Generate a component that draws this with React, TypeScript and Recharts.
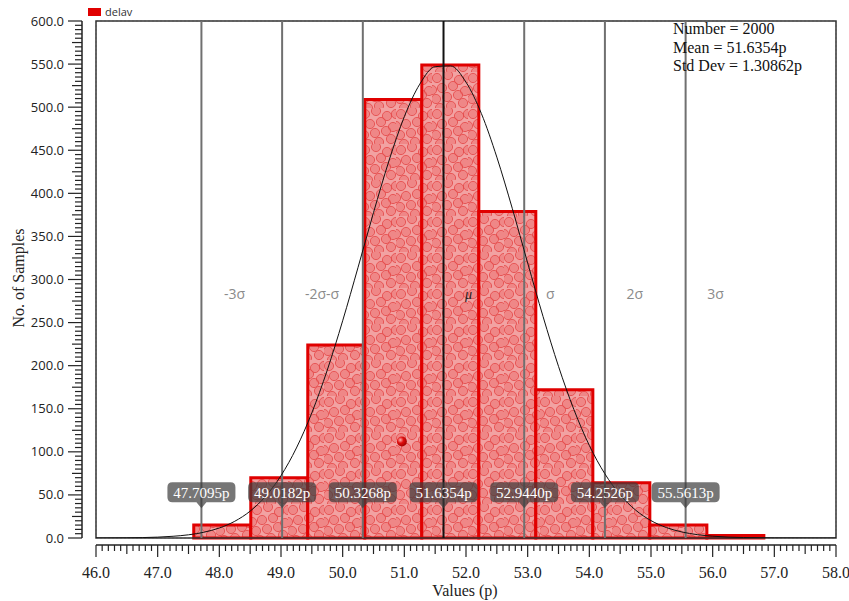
import React from 'react';
import {
  ComposedChart,
  Line,
  XAxis,
  YAxis,
  CartesianGrid,
  ReferenceArea,
  ReferenceLine,
  ReferenceDot,
  Label,
} from 'recharts';

// ---------- data ----------
const seriesName = 'delav';
const binEdges = [47.585, 48.51, 49.434, 50.359, 51.283, 52.208, 53.132, 54.057, 54.981, 55.906, 56.83];
const binCounts = [15, 70, 224, 509, 549, 379, 172, 64, 15, 3];

const curveX = [
  46.0, 46.5, 47.0, 47.25, 47.5, 47.75, 48.0, 48.25, 48.5, 48.75, 49.0, 49.25, 49.5, 49.75,
  50.0, 50.25, 50.5, 50.75, 51.0, 51.25, 51.5, 51.75, 52.0, 52.25, 52.5, 52.75, 53.0, 53.25,
  53.5, 53.75, 54.0, 54.25, 54.5, 54.75, 55.0, 55.25, 55.5, 55.75, 56.0, 56.5, 57.0, 58.0,
];
const curveY = [
  0.05, 0.25, 1.0, 2.0, 3.7, 6.7, 11.6, 19.4, 31.2, 48.4, 72.4, 104.5, 145.3, 194.8,
  252.1, 314.2, 377.6, 437.6, 489.0, 526.7, 547.0, 547.9, 529.0, 492.5, 442.0, 382.6, 319.2, 256.9,
  199.2, 149.0, 107.4, 74.7, 50.1, 32.4, 20.2, 12.1, 7.0, 3.9, 2.1, 0.55, 0.12, 0.0,
];

const sigmaValues = [47.7095, 49.0182, 50.3268, 51.6354, 52.944, 54.2526, 55.5613];
const sigmaValueLabels = ['47.7095p', '49.0182p', '50.3268p', '51.6354p', '52.9440p', '54.2526p', '55.5613p'];
const sigmaNames = ['-3σ', '-2σ-σ', '', 'μ', 'σ', '2σ', '3σ'];
const meanIndex = 3;

const statsLines = ['Number = 2000', 'Mean = 51.6354p', 'Std Dev = 1.30862p'];
const outlierPoint = { x: 50.96, y: 112 };

const xTickLabels = ['46.0', '47.0', '48.0', '49.0', '50.0', '51.0', '52.0', '53.0', '54.0', '55.0', '56.0', '57.0', '58.0'];
const yTickLabels = ['0.0', '50.0', '100.0', '150.0', '200.0', '250.0', '300.0', '350.0', '400.0', '450.0', '500.0', '550.0', '600.0'];

// ---------- derived (layout helpers) ----------
const curveData = curveX.map((x, i) => ({ x, y: curveY[i] }));
const xMinorTicks: number[] = [];
for (let i = 0; i <= 120; i++) xMinorTicks.push(Math.round((46 + i * 0.1) * 10) / 10);
const yMinorTicks: number[] = [];
for (let i = 0; i <= 120; i++) yMinorTicks.push(i * 5);
const xGridTicks: number[] = [];
for (let i = 0; i <= 24; i++) xGridTicks.push(46 + i * 0.5);
const yGridTicks: number[] = [];
for (let i = 0; i <= 12; i++) yGridTicks.push(i * 50);

const labelOffsets = [33, 40, 0, 25, 26, 30, 30];

const XTick = (props: any) => {
  const { x, y, payload } = props;
  const v = payload.value as number;
  const major = Math.abs(v - Math.round(v)) < 1e-6;
  const half = Math.abs(v * 2 - Math.round(v * 2)) < 1e-6;
  const len = major ? 12 : half ? 9 : 6;
  const idx = xTickLabels.indexOf(v.toFixed(1));
  return (
    <g>
      <line x1={x} y1={y} x2={x} y2={y + len} stroke="#222" strokeWidth={1.2} />
      {major && idx >= 0 ? (
        <text x={x} y={y + 27} dy="0.35em" textAnchor="middle" fontFamily="'Liberation Serif', serif" fontSize={16} fill="#222">
          {xTickLabels[idx]}
        </text>
      ) : null}
    </g>
  );
};

const YTick = (props: any) => {
  const { x, y, payload } = props;
  const v = payload.value as number;
  const major = v % 50 === 0;
  const half = v % 25 === 0;
  const len = major ? 14 : half ? 10 : 7;
  const idx = major ? v / 50 : -1;
  return (
    <g>
      <line x1={x} y1={y} x2={x - len} y2={y} stroke="#222" strokeWidth={1.2} />
      {idx >= 0 ? (
        <text x={x - 18} y={y} dy="0.35em" textAnchor="end" fontFamily="'Open Sans', sans-serif" fontSize={13} fill="#222">
          {yTickLabels[idx]}
        </text>
      ) : null}
    </g>
  );
};

const ValueTag = (props: any) => {
  const { cx, cy, text } = props;
  if (cx == null || cy == null) return null;
  const w = 68;
  const h = 20;
  const r = 5;
  const x0 = cx - w / 2;
  const y0 = cy - h / 2;
  const d = `M${x0 + r},${y0} H${x0 + w - r} Q${x0 + w},${y0} ${x0 + w},${y0 + r} V${y0 + h - r} Q${x0 + w},${y0 + h} ${x0 + w - r},${y0 + h} H${cx + 5} L${cx},${y0 + h + 6} L${cx - 5},${y0 + h} H${x0 + r} Q${x0},${y0 + h} ${x0},${y0 + h - r} V${y0 + r} Q${x0},${y0} ${x0 + r},${y0} Z`;
  return (
    <g>
      <path d={d} fill="rgba(60,60,60,0.7)" />
      <text x={cx} y={cy} dy="0.35em" textAnchor="middle" fontFamily="'Liberation Serif', serif" fontSize={15} fill="#fff">
        {text}
      </text>
    </g>
  );
};

const SigmaName = (props: any) => {
  const { cx, cy, text, dx, isMean } = props;
  if (cx == null || cy == null || !text) return null;
  return (
    <text
      x={cx + dx}
      y={cy}
      dy="0.35em"
      textAnchor="middle"
      fontFamily={isMean ? "'Liberation Serif', serif" : "'Open Sans', sans-serif"}
      fontStyle={isMean ? 'italic' : 'normal'}
      fontSize={14}
      fill={isMean ? '#222' : '#8a8a8a'}
    >
      {text}
    </text>
  );
};

const Ball = (props: any) => {
  const { cx, cy } = props;
  if (cx == null || cy == null) return null;
  return <circle cx={cx} cy={cy} r={5} fill="url(#ballGrad)" />;
};

export default function App() {
  return (
    <div style={{ position: 'relative', width: 849, height: 601, background: '#fff', overflow: 'hidden' }}>
      <style>{'body{margin:0;overflow:hidden;}'}</style>
      <ComposedChart
        width={849}
        height={601}
        data={curveData}
        margin={{ top: 21, right: 13, bottom: 0, left: 0 }}
      >
        <defs>
          <pattern id="dots" width="36" height="36" patternUnits="userSpaceOnUse">
            <rect width="36" height="36" fill="#f2a2a2" />
            {[
              [5, 6], [16, 3], [27, 8], [33, 19], [10, 16], [21, 14], [4, 27], [15, 25],
              [26, 23], [31, 31], [19, 34], [8, 36], [36, 6], [0, 18],
            ].map(([cx, cy], i) => (
              <circle key={i} cx={cx} cy={cy} r={4.6} fill="rgba(235,95,95,0.4)" stroke="rgba(228,70,70,0.8)" strokeWidth={1} />
            ))}
          </pattern>
          <radialGradient id="ballGrad" cx="0.35" cy="0.35" r="0.7">
            <stop offset="0%" stopColor="#ffb0b0" />
            <stop offset="45%" stopColor="#e01010" />
            <stop offset="100%" stopColor="#a00000" />
          </radialGradient>
        </defs>
        <CartesianGrid stroke="#cfcfcf" strokeDasharray="2 2" xAxisId={0} yAxisId={0} />
        <XAxis
          xAxisId={0}
          dataKey="x"
          type="number"
          domain={[46, 58]}
          ticks={xGridTicks}
          height={7}
          tick={false}
          tickLine={false}
          axisLine={false}
          allowDataOverflow
        />
        <XAxis
          xAxisId="deco"
          dataKey="x"
          type="number"
          domain={[46, 58]}
          ticks={xMinorTicks}
          interval={0}
          height={56}
          tickSize={0}
          tickMargin={0}
          tickLine={false}
          axisLine={{ stroke: '#222', strokeWidth: 1.5 }}
          tick={<XTick />}
          allowDataOverflow
        >
          <Label
            content={() => (
              <text x={465} y={590} dy="0.35em" textAnchor="middle" fontFamily="'Liberation Serif', serif" fontSize={16} fill="#222">
                Values (p)
              </text>
            )}
          />
        </XAxis>
        <YAxis
          yAxisId={0}
          type="number"
          domain={[0, 600]}
          ticks={yGridTicks}
          width={14}
          tick={false}
          tickLine={false}
          axisLine={false}
          allowDataOverflow
        />
        <YAxis
          yAxisId="deco"
          type="number"
          domain={[0, 600]}
          ticks={yMinorTicks}
          interval={0}
          width={82}
          tickSize={0}
          tickMargin={0}
          tickLine={false}
          axisLine={{ stroke: '#222', strokeWidth: 1.5 }}
          tick={<YTick />}
          allowDataOverflow
        >
          <Label
            content={() => (
              <text
                x={18}
                y={278}
                dy="0.35em"
                textAnchor="middle"
                transform="rotate(-90 18 278)"
                fontFamily="'Liberation Serif', serif"
                fontSize={16}
                fill="#222"
              >
                No. of Samples
              </text>
            )}
          />
        </YAxis>

        {binCounts.map((c, i) => (
          <ReferenceArea
            key={`bin-${i}`}
            xAxisId={0}
            yAxisId={0}
            x1={binEdges[i]}
            x2={binEdges[i + 1]}
            y1={0}
            y2={c}
            fill="url(#dots)"
            fillOpacity={1}
            stroke="#e00000"
            strokeWidth={3}
            ifOverflow="visible"
          />
        ))}

        <ReferenceArea
          xAxisId={0}
          yAxisId={0}
          x1={46}
          x2={58}
          y1={0}
          y2={600}
          fill="none"
          fillOpacity={0}
          stroke="#333"
          strokeWidth={1.5}
        />

        {sigmaValues.map((v, i) => (
          <ReferenceLine
            key={`sl-${i}`}
            xAxisId={0}
            yAxisId={0}
            x={v}
            stroke={i === meanIndex ? '#111' : '#707070'}
            strokeWidth={2}
          />
        ))}

        <Line
          xAxisId={0}
          yAxisId={0}
          type="monotone"
          dataKey="y"
          stroke="#111"
          strokeWidth={1}
          dot={false}
          activeDot={false}
          isAnimationActive={false}
        />

        {sigmaValues.map((v, i) => (
          <ReferenceDot
            key={`sn-${i}`}
            xAxisId={0}
            yAxisId={0}
            x={v}
            y={283}
            shape={(p: any) => <SigmaName {...p} text={sigmaNames[i]} dx={labelOffsets[i]} isMean={i === meanIndex} />}
          />
        ))}

        {sigmaValues.map((v, i) => (
          <ReferenceDot
            key={`vt-${i}`}
            xAxisId={0}
            yAxisId={0}
            x={v}
            y={53}
            shape={(p: any) => <ValueTag {...p} text={sigmaValueLabels[i]} />}
          />
        ))}

        <ReferenceDot xAxisId={0} yAxisId={0} x={outlierPoint.x} y={outlierPoint.y} shape={(p: any) => <Ball {...p} />} />
      </ComposedChart>

      <div
        style={{
          position: 'absolute',
          left: 88,
          top: 4,
          display: 'flex',
          alignItems: 'center',
          fontFamily: "'Open Sans', sans-serif",
          fontSize: 11,
          color: '#333',
        }}
      >
        <span style={{ display: 'inline-block', width: 13, height: 8, background: '#e00000', marginRight: 4 }} />
        <span>{seriesName}</span>
      </div>

      <div
        style={{
          position: 'absolute',
          left: 673,
          top: 20,
          fontFamily: "'Liberation Serif', serif",
          fontSize: 16,
          lineHeight: '18.5px',
          color: '#111',
          whiteSpace: 'nowrap',
        }}
      >
        {statsLines.map((s, i) => (
          <div key={i}>{s}</div>
        ))}
      </div>
    </div>
  );
}
